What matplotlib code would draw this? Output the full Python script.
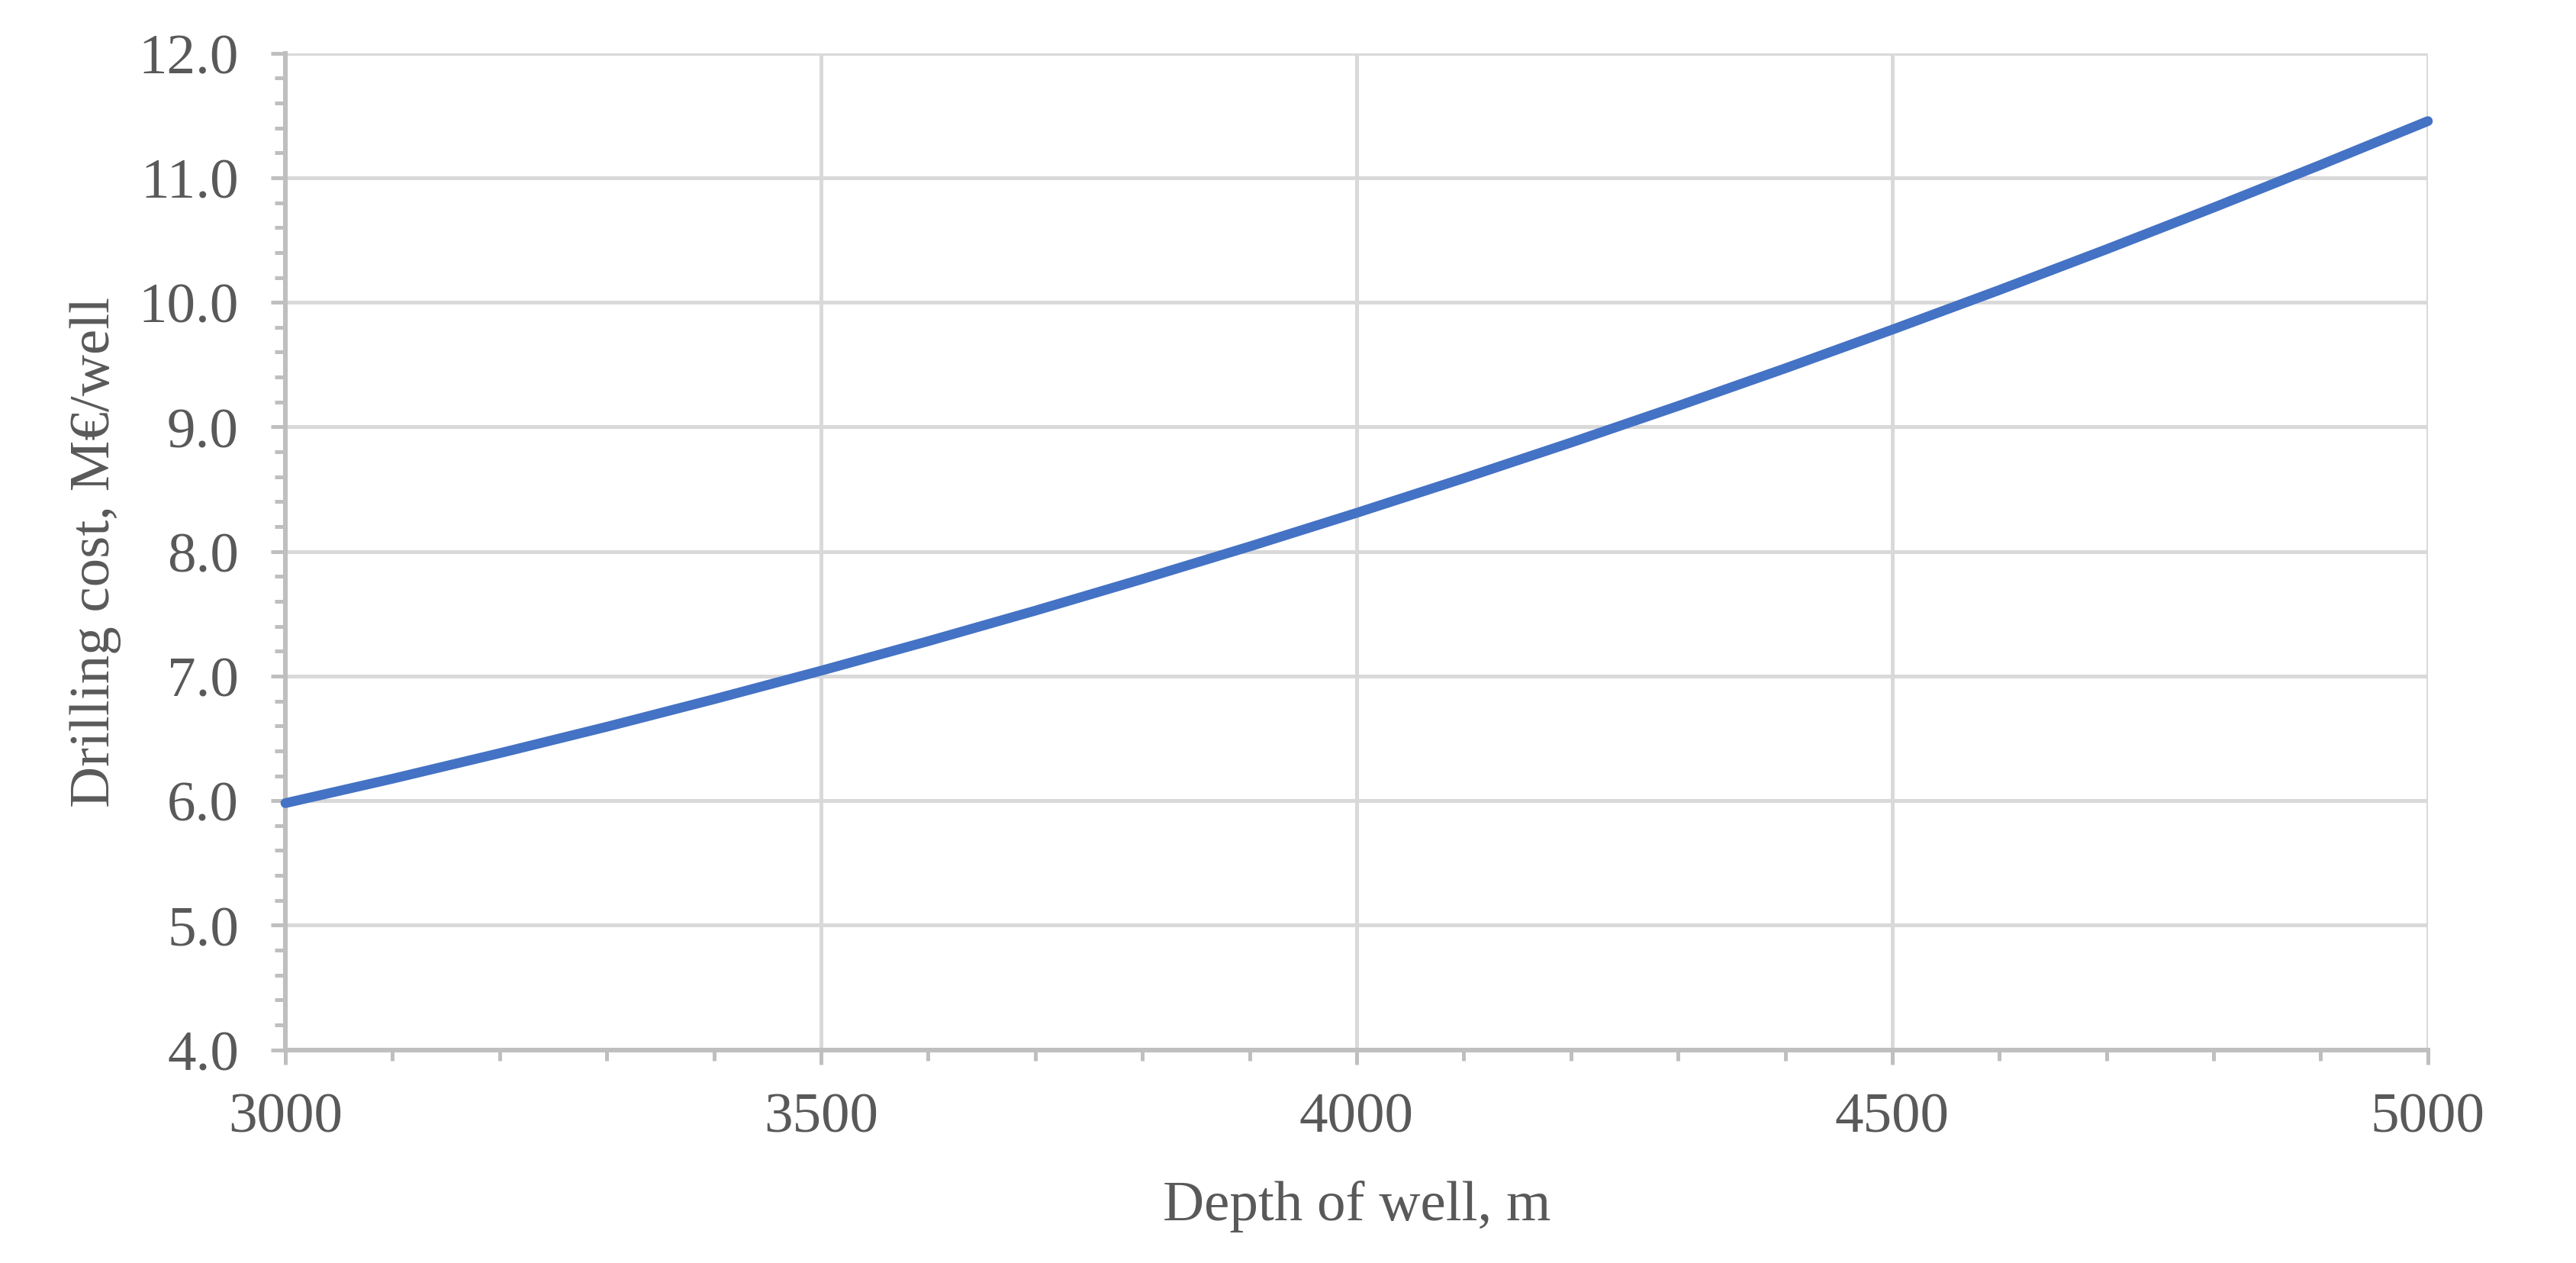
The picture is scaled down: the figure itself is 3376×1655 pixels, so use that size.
import matplotlib
matplotlib.use("Agg")
import matplotlib.pyplot as plt
from matplotlib.ticker import MultipleLocator, FormatStrFormatter

# depth of well (m) and drilling cost (M€/well)
depth = [3000, 3100, 3200, 3300, 3400, 3500, 3600, 3700, 3800, 3900, 4000,
         4100, 4200, 4300, 4400, 4500, 4600, 4700, 4800, 4900, 5000]
cost = [5.980, 6.176, 6.381, 6.593, 6.814, 7.043, 7.280, 7.525, 7.779, 8.040,
        8.310, 8.588, 8.874, 9.168, 9.470, 9.781, 10.099, 10.426, 10.761,
        11.104, 11.455]

plt.rcParams['font.family'] = ['Liberation Serif', 'DejaVu Serif']

text_col = '#595959'
axis_col = '#BFBFBF'
grid_col = '#D9D9D9'

fig = plt.figure(figsize=(16.88, 8.28), dpi=200)
ax = fig.add_axes([0.1108, 0.1687, 0.9425 - 0.1108, 0.9573 - 0.1687])

ax.plot(depth, cost, color='#4472C4', lw=4.6, solid_capstyle='round',
        solid_joinstyle='round', clip_on=False, zorder=3)

ax.set_xlim(3000, 5000)
ax.set_ylim(4, 12)
ax.xaxis.set_major_locator(MultipleLocator(500))
ax.xaxis.set_minor_locator(MultipleLocator(100))
ax.yaxis.set_major_locator(MultipleLocator(1))
ax.yaxis.set_minor_locator(MultipleLocator(0.2))
ax.yaxis.set_major_formatter(FormatStrFormatter('%.1f'))

ax.grid(True, which='major', color=grid_col, lw=1.8, zorder=0)
ax.set_axisbelow(True)

for s in ['top', 'right']:
    ax.spines[s].set_visible(False)
for s in ['left', 'bottom']:
    ax.spines[s].set_color(axis_col)
    ax.spines[s].set_linewidth(2.2)

ax.tick_params(which='major', length=7, width=1.8, color=axis_col,
               labelsize=27, labelcolor=text_col)
ax.tick_params(which='minor', length=5, width=1.8, color=axis_col)
ax.tick_params(axis='x', which='major', pad=13)
ax.tick_params(axis='y', which='major', pad=15)

ax.set_xlabel('Depth of well, m', fontsize=27, color=text_col, labelpad=17)
ax.set_ylabel('Drilling cost, M€/well', fontsize=27, color=text_col, labelpad=8)

fig.savefig('out.png', dpi=200, facecolor='white')
